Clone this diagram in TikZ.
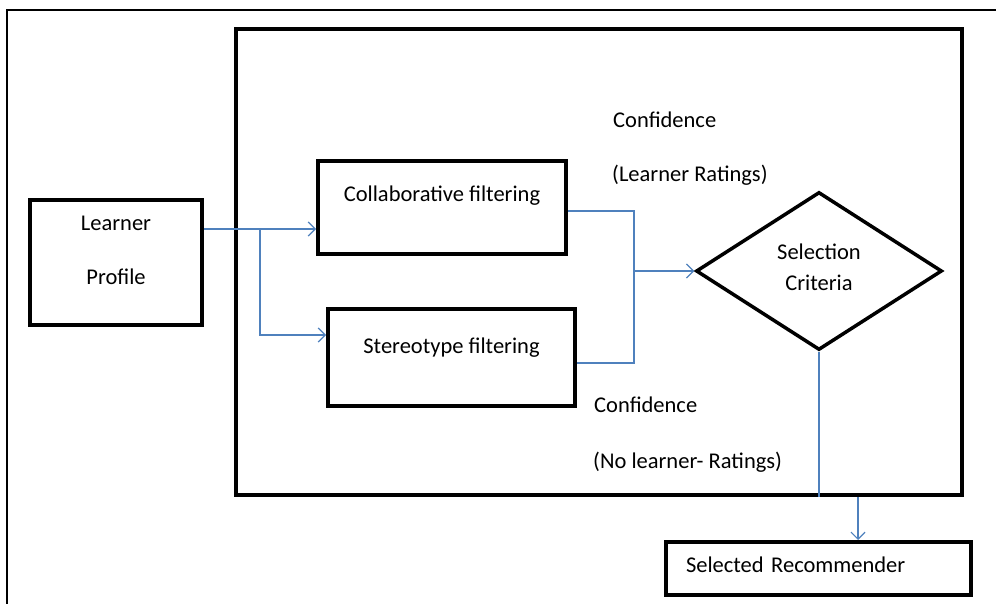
\documentclass[tikz,border=0pt]{standalone}
\usepackage{fontspec}
\setmainfont{Carlito}
\usetikzlibrary{arrows.meta}
\usetikzlibrary{positioning}
\usetikzlibrary{shapes.geometric}
\definecolor{linkblue}{HTML}{4F81BD}
\tikzset {
  % thick black boxes
  block/.style = {
    draw = black,
    line width = 4pt,
    rectangle,
    inner sep = 0,
    text height = 15pt,
    font = \fontsize{22.5}{27}\selectfont
  },
  % decision shape
  decide/.style = {
    block,
    diamond,
    line width = 3.5pt,
    align = center,
    font = \fontsize{22.5}{31}\selectfont
  },
  % side notes
  note/.style = {
    inner sep = 0,
    anchor = base west,
    font = \fontsize{22.5}{27}\selectfont
  },
  % blue connectors
  conn/.style = {
    draw = linkblue,
    line width = 1.2pt
  },
  arr/.style = {
    conn,
    -{Straight Barb[length=7pt, width=14pt]}
  }
}

\begin{document}
\begin{tikzpicture}[x=1pt, y=-1pt]
    \useasboundingbox (0,0) rectangle (996,604);
    % outer frame
    \draw[line width=2pt] (996,10) -| (7,604);

    \node[block, minimum width=726pt, minimum height=466pt] (sys) at (599,262) {};
    \node[block, minimum width=172pt, minimum height=125pt, align=center,
      text height=69pt, text depth=26pt, font=\fontsize{22.5}{54}\selectfont] (lp) at (116,262.5) {Learner\\Profile};
    \node[block, minimum width=248pt, minimum height=93pt, text depth=26pt] (cf) at (442,207.5) {Collaborative filtering};
    \node[block, minimum width=247pt, minimum height=97pt, text depth=24pt] (sf) at (451.5,357.5) {Stereotype filtering};
    \node[decide, minimum width=246pt, minimum height=158pt,
      text height=46pt, text depth=8pt] (dc) at (819,271) {Selection\\Criteria};
    \node[block, minimum width=305pt, minimum height=53pt, text depth=8pt,
      text width=265pt, align=left] (sr) at (818.5,568.5) {Selected Recommender};

    \node[note] (conf-lr) at (613,128) {Confidence};
    \node[note] (rate-lr) at (612,182) {(Learner Ratings)};
    \node[note] (conf-nl) at (594,412) {Confidence};
    \node[note] (rate-nl) at (593,468) {(No learner- Ratings)};

    \coordinate (split) at (260,229);
    \coordinate (sf-in) at (0,335);
    \coordinate (cf-out) at (0,211);
    \coordinate (sf-out) at (0,363);
    \coordinate (merge) at (634,271);
    \coordinate (drop) at (858,0);

    \draw[conn] (lp.east |- split) -- (split);
    \draw[arr] (split) -- (cf.west |- split);
    \draw[arr] (split) |- (sf.west |- sf-in);
    \draw[conn] (cf.east |- cf-out) -| (merge) |- (sf.east |- sf-out);
    \draw[arr] (merge) -- (dc.west);
    \draw[conn] (dc.south) -- (dc.south |- sys.south);
    \draw[arr] (sys.south -| drop) -- (sr.north -| drop);
\end{tikzpicture}
\end{document}
